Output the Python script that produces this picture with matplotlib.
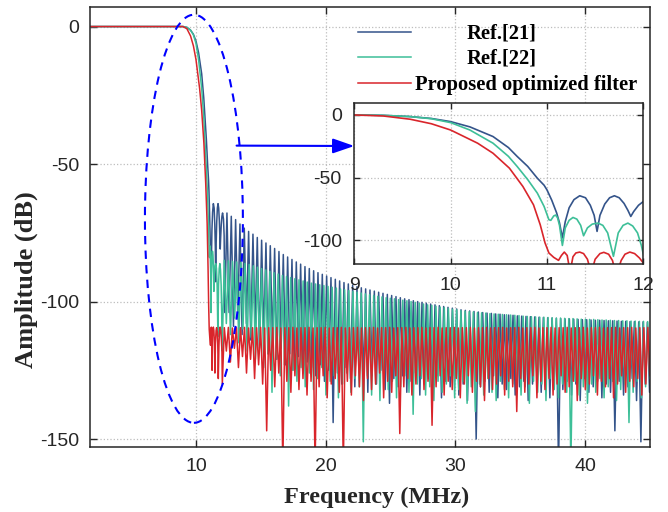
import numpy as np
import matplotlib
matplotlib.use("Agg")
import matplotlib.pyplot as plt
from matplotlib.patches import Ellipse
from matplotlib.lines import Line2D

plt.rcParams["axes.unicode_minus"] = False

# ---------------- data ----------------
series_names = ["Ref.[21]", "Ref.[22]", "Proposed optimized filter"]

# passband / transition band / first side lobes (MHz, dB)
ref21_head_f = [0.0, 9.0, 9.3, 9.58, 9.8, 10.0, 10.2, 10.44, 10.6, 10.69, 10.8, 10.9, 10.97, 11.0,
                11.05, 11.1, 11.13, 11.16, 11.19, 11.23, 11.28, 11.34, 11.4, 11.45, 11.49, 11.52,
                11.55, 11.6, 11.65, 11.7, 11.75, 11.8, 11.84, 11.87, 11.9, 11.95, 12.0, 12.05,
                12.12, 12.17, 12.22]
ref21_head_db = [0.0, 0.0, -0.3, -1.3, -2.8, -5.3, -9.5, -17.2, -26.0, -33.0, -41.0, -50.4, -56.0, -59.7,
                 -68.0, -78.0, -86.0, -98.0, -85.0, -74.0, -67.5, -64.4, -66.0, -72.0, -80.0, -92.8,
                 -80.0, -71.0, -66.0, -64.4, -66.0, -70.5, -76.0, -80.9, -77.0, -72.0, -69.0, -67.8,
                 -70.0, -76.0, -104.0]

ref22_head_f = [0.0, 9.0, 9.3, 9.58, 9.8, 10.0, 10.2, 10.44, 10.6, 10.69, 10.8, 10.9, 10.97, 11.02,
                11.04, 11.07, 11.09, 11.11, 11.13, 11.16, 11.19, 11.23, 11.27, 11.31, 11.35, 11.38,
                11.42, 11.47, 11.53, 11.58, 11.63, 11.69, 11.74, 11.79, 11.84, 11.89, 11.94, 11.98,
                12.02]
ref22_head_db = [0.0, 0.0, -0.3, -1.3, -3.0, -6.1, -12.0, -22.5, -33.0, -41.0, -51.5, -62.3, -72.9, -83.5,
                 -84.0, -80.5, -79.8, -82.0, -88.0, -104.0, -90.0, -84.0, -81.7, -83.0, -88.0, -96.3,
                 -90.0, -87.0, -86.2, -88.0, -94.0, -112.7, -94.0, -88.0, -86.2, -88.5, -94.0, -104.0,
                 -118.0]

prop_head_f = [0.0, 9.0, 9.3, 9.58, 9.8, 10.0, 10.28, 10.44, 10.61, 10.75, 10.86, 10.93, 10.98, 11.02,
               11.07, 11.12, 11.15, 11.18, 11.21, 11.24, 11.27, 11.3, 11.34, 11.38, 11.42, 11.46,
               11.5, 11.55, 11.59, 11.64, 11.68, 11.72, 11.77, 11.81, 11.86, 11.91, 11.96, 12.0,
               12.03]
prop_head_db = [0.0, 0.0, -0.8, -3.4, -7.0, -12.0, -22.5, -30.5, -42.4, -57.0, -71.6, -87.5, -102.0, -110.0,
                -113.5, -115.9, -112.0, -109.3, -112.0, -125.0, -113.0, -110.0, -109.3, -110.5, -115.0, -126.0,
                -115.0, -110.5, -109.5, -111.0, -116.0, -128.0, -116.0, -111.0, -109.3, -110.5, -114.0, -118.0,
                -130.0]

# stop-band side lobes: peak level of each lobe and depth of the null that ends it (dB)
ref21_peaks = [-67.8, -69.0, -70.2, -71.8, -73.3, -74.5, -75.5, -76.7, -77.7, -78.7,
               -79.7, -80.7, -81.8, -82.9, -83.8, -84.7, -85.6, -86.4, -87.3, -88.0,
               -88.8, -89.5, -90.1, -90.7, -91.3, -91.9, -92.5, -93.1, -93.6, -94.1,
               -94.6, -95.0, -95.4, -95.8, -96.2, -96.6, -97.0, -97.4, -97.8, -98.2,
               -98.6, -99.0, -99.3, -99.7, -100.0, -100.3, -100.6, -100.9, -101.2, -101.5,
               -101.8, -102.1, -102.4, -102.7, -103.0, -103.2, -103.4, -103.6, -103.8, -104.0,
               -104.2, -104.3, -104.5, -104.6, -104.8, -104.9, -105.0, -105.2, -105.3, -105.4,
               -105.5, -105.6, -105.7, -105.8, -105.9, -106.0, -106.1, -106.2, -106.3, -106.3,
               -106.4, -106.5, -106.6, -106.6, -106.7, -106.8, -106.8, -106.9, -107.0, -107.0,
               -107.1, -107.2, -107.2, -107.3, -107.3, -107.4, -107.4, -107.5, -107.5]
ref21_nulls = [-104, -109, -106, -112, -108, -114, -110, -117, -113, -119,
               -115, -121, -117, -123, -119, -125, -120, -126, -122, -124,
               -127, -123, -129, -125, -144, -126, -130, -124, -128, -131,
               -126, -129, -133, -127, -130, -125, -132, -137, -128, -131,
               -127, -133, -129, -126, -134, -130, -128, -132, -127, -135,
               -129, -131, -127, -134, -130, -136, -128, -150, -131, -129,
               -133, -127, -135, -130, -132, -128, -134, -131, -129, -136,
               -130, -127, -133, -131, -135, -128, -160, -132, -129, -134,
               -130, -136, -128, -133, -131, -129, -135, -130, -133, -147,
               -129, -134, -131, -128, -136, -151, -130, -133, -129]

ref22_peaks = [-85.0, -85.2, -85.4, -85.6, -85.8, -86.1, -86.5, -87.0, -87.5, -88.0,
               -88.5, -89.0, -89.5, -90.0, -90.5, -90.9, -91.3, -91.7, -92.1, -92.5,
               -92.9, -93.3, -93.6, -93.9, -94.2, -94.5, -94.8, -95.1, -95.4, -95.7,
               -96.0, -96.3, -96.6, -96.9, -97.2, -97.5, -97.8, -98.1, -98.3, -98.6,
               -98.8, -99.0, -99.3, -99.5, -99.7, -100.0, -100.3, -100.6, -100.9, -101.2,
               -101.4, -101.7, -102.0, -102.2, -102.5, -102.8, -103.0, -103.3, -103.5, -103.7,
               -103.8, -104.0, -104.1, -104.2, -104.4, -104.5, -104.6, -104.7, -104.8, -104.9,
               -105.0, -105.1, -105.3, -105.4, -105.5, -105.6, -105.7, -105.7, -105.8, -105.9,
               -106.0, -106.0, -106.1, -106.2, -106.2, -106.3, -106.4, -106.4, -106.5, -106.5,
               -106.6, -106.7, -106.7, -106.8, -106.9, -106.9, -107.0, -107.0, -107.1, -107.1,
               -107.2, -107.2, -107.3, -107.3]
ref22_nulls = [-108, -112, -106, -115, -110, -118, -113, -121, -116, -124,
               -119, -133, -121, -127, -123, -138, -125, -129, -124, -131,
               -126, -132, -128, -124, -134, -129, -127, -135, -130, -126,
               -133, -128, -131, -151, -127, -134, -130, -136, -128, -132,
               -129, -135, -131, -127, -133, -141, -130, -128, -134, -131,
               -136, -129, -133, -130, -127, -135, -132, -129, -137, -131,
               -140, -130, -134, -128, -133, -136, -129, -132, -135, -130,
               -128, -134, -131, -137, -129, -133, -130, -136, -128, -132,
               -135, -130, -133, -160, -129, -134, -131, -137, -130, -133,
               -128, -135, -131, -129, -136, -132, -130, -144, -133, -129,
               -135, -131, -128, -134]

prop_peaks = [-109.5, -109.4, -109.6, -109.5, -109.5, -109.4, -109.6, -109.5, -109.5, -109.4,
              -109.6, -109.5, -109.5, -109.4, -109.6, -109.5, -109.5, -109.4, -109.6, -109.5,
              -109.5, -109.4, -109.6, -109.5, -109.5, -109.4, -109.6, -109.5, -109.5, -109.4,
              -109.6, -109.5, -109.5, -109.4, -109.6, -109.5, -109.5, -109.4, -109.6, -109.5,
              -109.5, -109.4, -109.6, -109.5, -109.5, -109.4, -109.6, -109.5, -109.5, -109.4,
              -109.6, -109.5, -109.5, -109.4, -109.6, -109.5, -109.5, -109.4, -109.6, -109.5,
              -109.5, -109.4, -109.6, -109.5, -109.5, -109.4, -109.6, -109.5, -109.5, -109.4,
              -109.6, -109.5, -109.5, -109.4, -109.6, -109.5, -109.5, -109.4, -109.6, -109.5,
              -109.5, -109.4, -109.6, -109.5, -109.5, -109.4, -109.6, -109.5, -109.5, -109.4,
              -109.6, -109.5, -109.5, -109.4, -109.6, -109.5, -109.5, -109.4, -109.6, -109.5,
              -109.5, -109.4, -109.6, -109.5, -109.5, -109.4, -109.6]
prop_nulls = [-118, -122, -117, -124, -120, -126, -121, -128, -123, -130,
              -147, -125, -131, -126, -160, -129, -133, -127, -132, -128,
              -134, -129, -160, -131, -127, -135, -130, -128, -133, -160,
              -129, -134, -127, -131, -136, -128, -132, -130, -126, -135,
              -129, -133, -127, -148, -131, -128, -134, -130, -127, -132,
              -129, -145, -131, -127, -134, -129, -132, -128, -135, -130,
              -127, -133, -129, -131, -136, -128, -132, -130, -127, -134,
              -129, -131, -140, -128, -133, -130, -127, -135, -129, -132,
              -128, -134, -130, -127, -133, -131, -129, -136, -128, -132,
              -130, -127, -134, -129, -131, -128, -135, -130, -127, -133,
              -129, -131, -128, -134, -130, -127, -132]

F_END = 45.3  # last null of the displayed side-lobe region (MHz)

colors = ["#34548A", "#3DBF98", "#D9252B"]


def build(head_f, head_db, peaks, nulls):
    n = min(len(peaks), len(nulls))
    edges = np.linspace(head_f[-1], F_END, n + 1)      # null frequencies
    mids = 0.5 * (edges[:-1] + edges[1:])              # lobe-peak frequencies
    tf = np.empty(2 * n)
    tdb = np.empty(2 * n)
    tf[0::2], tf[1::2] = mids, edges[1:]
    tdb[0::2], tdb[1::2] = peaks[:n], nulls[:n]
    return np.concatenate([head_f, tf]), np.concatenate([head_db, tdb])


curves = [build(ref21_head_f, ref21_head_db, ref21_peaks, ref21_nulls),
          build(ref22_head_f, ref22_head_db, ref22_peaks, ref22_nulls),
          build(prop_head_f, prop_head_db, prop_peaks, prop_nulls)]

# ---------------- figure ----------------
W, H = 668, 512
fig = plt.figure(figsize=(W / 100, H / 100), dpi=100)

def px_rect(l, t, r, b):
    return [l / W, 1 - b / H, (r - l) / W, (b - t) / H]

dark = "#262626"
tick_font = dict(family=["Liberation Sans", "DejaVu Sans"], size=14)
lab_font = dict(family=["Liberation Serif", "DejaVu Serif"], size=17.5, weight="bold")

ax = fig.add_axes(px_rect(90, 7.3, 650, 447.3))
for (f, db), c in zip(curves, colors):
    ax.plot(f, db, color=c, lw=1.1)
ax.set_xlim(1.83, 45)
ax.set_ylim(-153, 7)
ax.set_xticks([10, 20, 30, 40])
ax.set_yticks([0, -50, -100, -150])
ax.grid(True, linestyle=":", color="#BDBDBD", lw=0.9)
ax.tick_params(direction="in", length=5, width=1.0, top=True, right=True, colors=dark,
               labelcolor=dark, pad=8)
for lab in ax.get_xticklabels() + ax.get_yticklabels():
    lab.set_fontfamily(tick_font["family"])
    lab.set_fontsize(tick_font["size"])
for s in ax.spines.values():
    s.set_color(dark)
    s.set_linewidth(1.1)

ax.set_xlabel("Frequency (MHz)", fontdict=lab_font, color=dark)
ax.xaxis.set_label_coords(0.512, -0.113)
ax.xaxis.label.set_va("center")
ax.set_ylabel("Amplitude (dB)", fontdict=dict(lab_font, size=19), color=dark)
ax.yaxis.set_label_coords(-0.114, 0.382)
ax.yaxis.label.set_va("center")

# dashed ellipse highlighting the transition band
ell = Ellipse((9.84, -69.9), 7.55, 148.4, fill=False, edgecolor="#0000FF", lw=1.5,
              linestyle=(0, (4, 3)), zorder=5)
ax.add_patch(ell)

# legend (manual, MATLAB-like placement)
leg_rows = [(31.7, 466.7), (57.3, 466.7), (83.3, 415.0)]
for (yy, tx), c, name in zip(leg_rows, colors, series_names):
    fig.add_artist(Line2D([358 / W, 411 / W], [1 - yy / H, 1 - yy / H], color=c, lw=1.1,
                          transform=fig.transFigure))
    fig.text(tx / W, 1 - (yy + 1.5) / H, name, ha="left", va="center", color="black",
             fontfamily=lab_font["family"], fontsize=14.8, fontweight="bold")

# inset
axi = fig.add_axes(px_rect(354.3, 103.3, 643.3, 264))
for (f, db), c in zip(curves, colors):
    axi.plot(f, db, color=c, lw=1.2)
axi.set_xlim(9, 12)
axi.set_ylim(-118.8, 9.3)
axi.set_xticks([9, 10, 11, 12])
axi.set_yticks([0, -50, -100])
axi.grid(True, linestyle=":", color="#BDBDBD", lw=0.9)
axi.tick_params(direction="in", length=4, width=1.0, top=True, right=True, colors=dark,
                labelcolor=dark, pad=9)
for lab in axi.get_xticklabels() + axi.get_yticklabels():
    lab.set_fontfamily(tick_font["family"])
    lab.set_fontsize(tick_font["size"])
for s in axi.spines.values():
    s.set_color(dark)
    s.set_linewidth(1.1)
axi.set_facecolor("white")

# arrow from ellipse to inset
ax.annotate("", xy=(0.0, (264 - 146) / (264 - 103.3)), xycoords=axi.transAxes,
            xytext=(13.13, -43.3), textcoords="data",
            arrowprops=dict(arrowstyle="-|>,head_length=1.3,head_width=0.45", color="#0000FF",
                            lw=1.5, shrinkA=0, shrinkB=0), zorder=6)

fig.savefig("out.png", dpi=100)
